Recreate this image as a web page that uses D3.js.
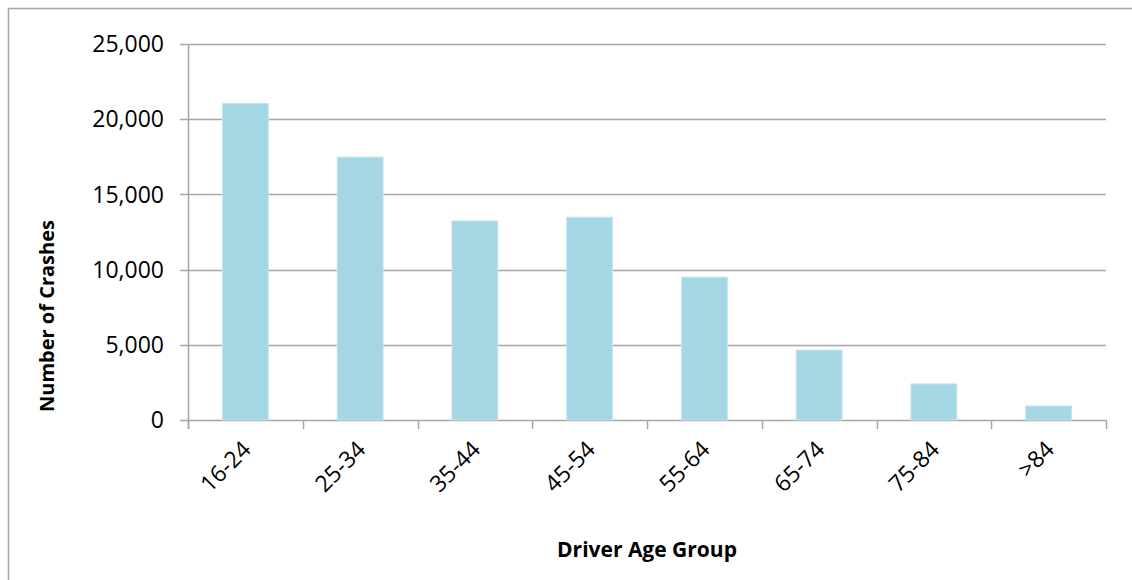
<!DOCTYPE html>
<html>
<head>
<meta charset="utf-8">
<script src="https://cdn.jsdelivr.net/npm/d3@7"></script>
<style>
  html, body { margin: 0; padding: 0; background: #fff; }
  svg text { font-family: "Open Sans", sans-serif; fill: #000; }
</style>
</head>
<body>
<div id="chart"></div>
<script>
const ageGroups = ['16-24', '25-34', '35-44', '45-54', '55-64', '65-74', '75-84', '>84']
const crashes = [21050, 17480, 13230, 13480, 9500, 4650, 2400, 930]
const yTicks = [0, 5000, 10000, 15000, 20000, 25000]

const width = 1132
const height = 580
const margin = {top: 44, right: 26, bottom: 160, left: 188}
const gridColor = '#a6a6a6'
const barColor = '#a5d6e3'

const svg = d3.select('#chart')
  .append('svg')
  .attr('width', width)
  .attr('height', height)

// outer chart border
svg.append('rect')
  .attr('x', 8.5)
  .attr('y', 8.5)
  .attr('width', width)
  .attr('height', height)
  .attr('fill', 'none')
  .attr('stroke', gridColor)
  .attr('stroke-width', 1.5)

const x = d3.scaleBand()
  .domain(ageGroups)
  .range([margin.left, width - margin.right])
  .paddingInner(0.6)
  .paddingOuter(0.3)

const y = d3.scaleLinear()
  .domain([0, 25000])
  .range([height - margin.bottom, margin.top])

const x0 = margin.left
const x1 = width - margin.right
const step = (x1 - x0) / ageGroups.length

// gridlines + y ticks
svg.append('g')
  .selectAll('line')
  .data(yTicks)
  .join('line')
  .attr('x1', x0 - 8)
  .attr('x2', x1)
  .attr('y1', d => Math.round(y(d)) + 0.5)
  .attr('y2', d => Math.round(y(d)) + 0.5)
  .attr('stroke', gridColor)
  .attr('stroke-width', 1.5)

svg.append('g')
  .selectAll('text')
  .data(yTicks)
  .join('text')
  .attr('x', x0 - 24)
  .attr('y', d => y(d))
  .attr('dy', '0.36em')
  .attr('text-anchor', 'end')
  .style('font-size', '23px')
  .text(d3.format(','))

// bars
svg.append('g')
  .selectAll('rect')
  .data(ageGroups)
  .join('rect')
  .attr('x', d => x(d))
  .attr('y', (d, i) => y(crashes[i]))
  .attr('width', x.bandwidth())
  .attr('height', (d, i) => y(0) - y(crashes[i]))
  .attr('fill', barColor)
  .attr('stroke', '#c4e6ee')
  .attr('stroke-width', 1)

// y axis line
svg.append('line')
  .attr('x1', x0 + 0.5)
  .attr('x2', x0 + 0.5)
  .attr('y1', y(25000))
  .attr('y2', y(0) + 9)
  .attr('stroke', gridColor)
  .attr('stroke-width', 1.5)

// category ticks
svg.append('g')
  .selectAll('line')
  .data(d3.range(ageGroups.length + 1))
  .join('line')
  .attr('x1', i => Math.round(x0 + i * step) + 0.5)
  .attr('x2', i => Math.round(x0 + i * step) + 0.5)
  .attr('y1', y(0))
  .attr('y2', y(0) + 9)
  .attr('stroke', gridColor)
  .attr('stroke-width', 1.5)

// category labels
svg.append('g')
  .selectAll('text')
  .data(ageGroups)
  .join('text')
  .attr('transform', d => `translate(${x(d) + x.bandwidth() / 2 + 7},${y(0) + 31}) rotate(-45)`)
  .attr('text-anchor', 'end')
  .style('font-size', '23px')
  .text(d => d)

// axis titles
svg.append('text')
  .attr('x', 647)
  .attr('y', 557)
  .attr('text-anchor', 'middle')
  .style('font-size', '21px')
  .style('font-weight', 'bold')
  .text('Driver Age Group')

svg.append('text')
  .attr('transform', 'translate(54,316) rotate(-90)')
  .attr('text-anchor', 'middle')
  .style('font-size', '20px')
  .style('font-weight', 'bold')
  .text('Number of Crashes')
</script>
</body>
</html>
